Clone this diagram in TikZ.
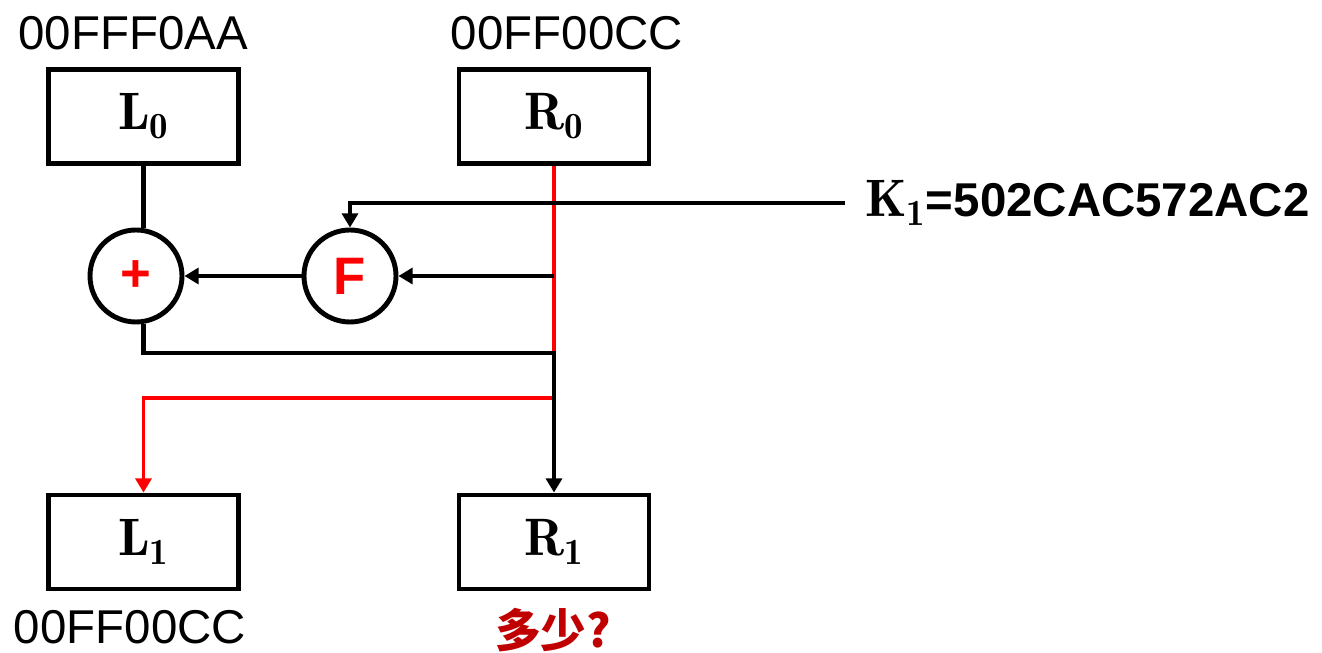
\documentclass[tikz,border=0pt]{standalone}
\usepackage{fontspec}
\setsansfont{Liberation Sans}
\newfontfamily\cjkfont{Noto Sans CJK SC}
\usetikzlibrary{arrows.meta}
\definecolor{darkred}{RGB}{192,0,0}

\begin{document}
\begin{tikzpicture}[every node/.style={font=\sffamily\fontsize{27}{32}\selectfont},
	blk/.style={draw, line width=2.8pt, minimum width=3.8cm, minimum height=1.88cm, font=\fontsize{30}{34}\selectfont},
	fn/.style={draw, circle, line width=2.8pt, minimum size=1.84cm, inner sep=0pt, text=red},
	wire/.style={line width=2.4pt},
	tip/.style={-{Triangle[length=8pt,width=9pt]}}]
	\useasboundingbox (0,0) rectangle (26.44,-13.06);
	\node (inL) at (2.66,-0.66) {00FFF0AA};
	\node (inR) at (11.34,-0.66) {00FF00CC};
	\node[blk] (L0) at (2.87,-2.33) {$\mathbf{L}_{\mathbf{0}}$};
	\node[blk] (R0) at (11.08,-2.33) {$\mathbf{R}_{\mathbf{0}}$};
	\node[fn, font=\sffamily\bfseries\fontsize{30}{32}\selectfont] (xor) at (2.72,-5.52) {+};
	\node[fn, font=\sffamily\bfseries\fontsize{30}{32}\selectfont] (F) at (7.0,-5.52) {F};
	\node[anchor=west, inner xsep=0.4cm] (key) at (16.9,-4.06) {\fontsize{30}{34}\selectfont$\mathbf{K}_{\mathbf{1}}$\fontsize{27}{32}\selectfont\bfseries=502CAC572AC2};
	\node[blk] (L1) at (2.87,-10.84) {$\mathbf{L}_{\mathbf{1}}$};
	\node[blk] (R1) at (11.08,-10.84) {$\mathbf{R}_{\mathbf{1}}$};
	\node (outL) at (2.6,-12.55) {00FF00CC};
	\node[text=darkred, font=\cjkfont\bfseries\fontsize{26}{30}\selectfont] (ask) at (11.06,-12.6) {多少?};
	\coordinate (rj) at (0,-7.96);
	\coordinate (bj) at (0,-7.06);
	\draw[wire, red, line width=2pt, tip] (R0.south) -- (R0.south |- rj) -| (L1.north);
	\draw[wire] (L0.south) -- (L0.south |- xor.north);
	\draw[wire, tip] (key.west) -| (F.north);
	\draw[wire, tip] (R0.south |- F) -- (F.east);
	\draw[wire, tip] (F.west) -- (xor.east);
	\draw[wire, tip] (L1.north |- xor.south) -- (L1.north |- bj) -| (R1.north);
\end{tikzpicture}
\end{document}
